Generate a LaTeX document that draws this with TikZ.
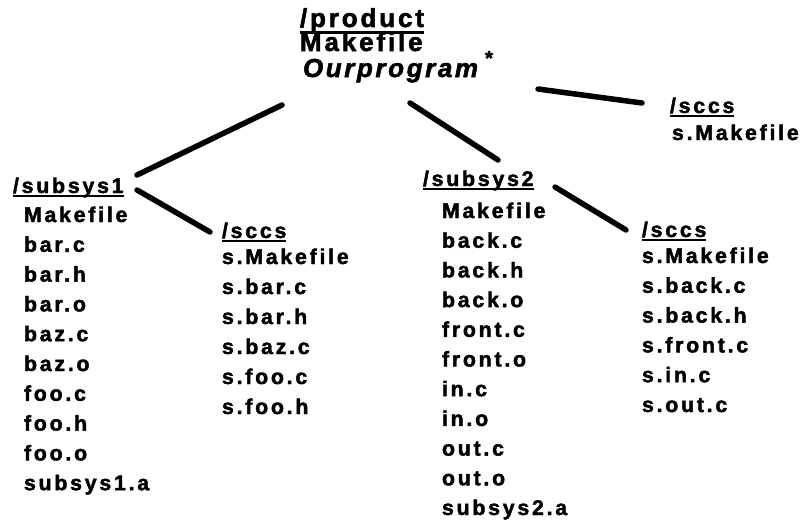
\documentclass[tikz,border=0pt]{standalone}
\usepackage{fontspec}
\newfontfamily\hvb{Liberation Sans Bold}[LetterSpace=13, FakeBold=2]
\newfontfamily\hvbt{Liberation Sans Bold}[LetterSpace=11, FakeBold=2]
\newfontfamily\hvbi{Liberation Sans Bold Italic}[LetterSpace=10, FakeBold=2]
\newcommand{\lstf}{\hvb\fontsize{21.3}{21.3}\selectfont}
\newcommand{\topf}{\hvbt\fontsize{26}{26}\selectfont}
\newcommand{\topi}{\hvbi\fontsize{26}{26}\selectfont}
\begin{document}
\begin{tikzpicture}[x=1pt,y=-1pt,
  every node/.style={inner sep=0pt, outer sep=0pt, anchor=base west},
  lst/.style={font=\lstf},
  topt/.style={font=\topf},
  ul/.style={line width=2pt},
  conn/.style={line width=5.5pt, line cap=round}]
\useasboundingbox (0,0) rectangle (806,522);

% top block
\node[topt] (prod) at (300,27) {/product};
\node[topt] (pmk) at (300,51) {Makefile};
\node[font=\topi] (pour) at (303,77) {Ourprogram};
\node[anchor=center, font=\hvb\fontsize{20}{20}\selectfont] (ast) at (489,58) {*};
\draw[line width=2.5pt] ([yshift=-5.5pt]prod.base west) -- ([yshift=-5.5pt]prod.base east);

% top-right sccs
\node[lst] (tsc) at (670,113) {/sccs};
\node[lst] (tsm) at (672,140) {s.Makefile};
\draw[ul] ([yshift=-3pt]tsc.base west) -- ([yshift=-3pt]tsc.base east);

% subsys1
\node[lst] (sa) at (13,193) {/subsys1};
\draw[ul] ([yshift=-3pt]sa.base west) -- ([yshift=-3pt]sa.base east);
\foreach \t [count=\i] in {Makefile,bar.c,bar.h,bar.o,baz.c,baz.o,foo.c,foo.h,foo.o,subsys1.a}
  \node[lst] (sa-\i) at (24,{222+(\i-1)*29.8}) {\t};

% sccs of subsys1
\node[lst] (ca) at (222,238) {/sccs};
\draw[ul] ([yshift=-3pt]ca.base west) -- ([yshift=-3pt]ca.base east);
\foreach \t [count=\i] in {s.Makefile,s.bar.c,s.bar.h,s.baz.c,s.foo.c,s.foo.h}
  \node[lst] (ca-\i) at (222,{264+(\i-1)*30}) {\t};

% subsys2
\node[lst] (sb) at (423,186) {/subsys2};
\draw[ul] ([yshift=-3pt]sb.base west) -- ([yshift=-3pt]sb.base east);
\foreach \t [count=\i] in {Makefile,back.c,back.h,back.o,front.c,front.o,in.c,in.o,out.c,out.o,subsys2.a}
  \node[lst] (sb-\i) at (442,{218+(\i-1)*29.7}) {\t};

% sccs of subsys2
\node[lst] (cb) at (642,237) {/sccs};
\draw[ul] ([yshift=-3pt]cb.base west) -- ([yshift=-3pt]cb.base east);
\foreach \t [count=\i] in {s.Makefile,s.back.c,s.back.h,s.front.c,s.in.c,s.out.c}
  \node[lst] (cb-\i) at (642,{263+(\i-1)*29.8}) {\t};

% connectors
\draw[conn] ([shift={(124,-18)}]sa.base west) -- ([shift={(-18,78)}]prod.base west);
\draw[conn] ([shift={(110,76)}]prod.base west) -- ([shift={(75,-26)}]sb.base west);
\draw[conn] ([shift={(238,62)}]prod.base west) -- ([shift={(-28,-10)}]tsc.base west);
\draw[conn] ([shift={(124,-3)}]sa.base west) -- ([shift={(-12,-6)}]ca.base west);
\draw[conn] ([shift={(132,1)}]sb.base west) -- ([shift={(-16,-7)}]cb.base west);
\end{tikzpicture}
\end{document}
